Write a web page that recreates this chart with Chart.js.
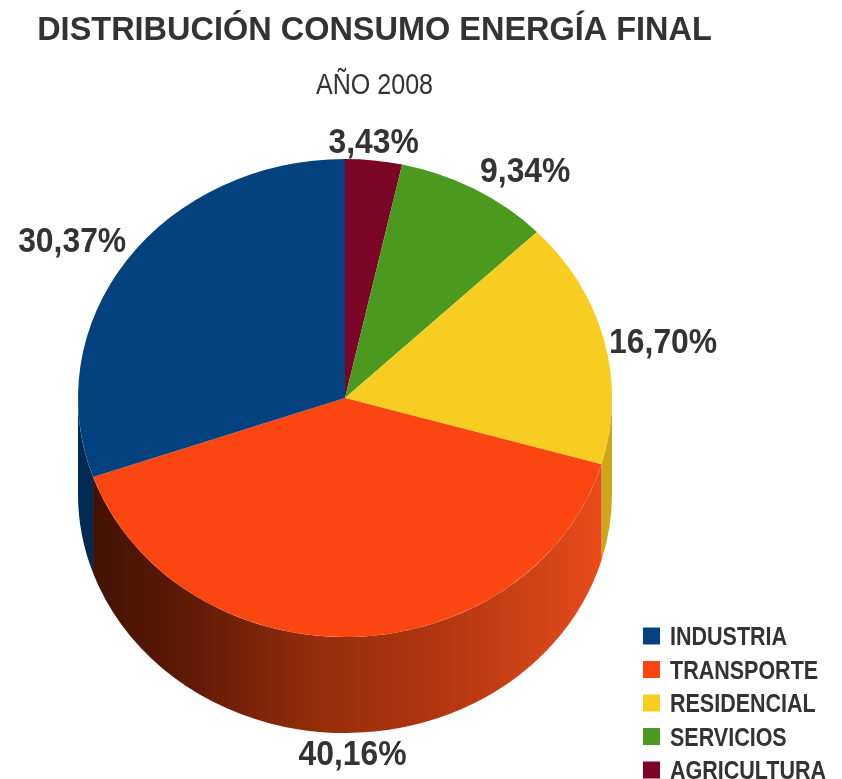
<!DOCTYPE html>
<html>
<head>
<meta charset="utf-8">
<script src="https://cdn.jsdelivr.net/npm/chart.js@4"></script>
<style>
  html, body { margin: 0; padding: 0; background: #fff; }
  canvas { display: block; }
</style>
</head>
<body>
<canvas id="energyChart" width="842" height="779"></canvas>
<script>
const titleText = 'DISTRIBUCIÓN CONSUMO ENERGÍA FINAL';
const subtitleText = 'AÑO 2008';
const categories = ['INDUSTRIA', 'TRANSPORTE', 'RESIDENCIAL', 'SERVICIOS', 'AGRICULTURA'];
const shares = [30.37, 40.16, 16.70, 9.34, 3.43];
const topColors = ['#04427f', '#fb4611', '#f8cd22', '#4c991f', '#7c0527'];
const sideColors = ['#012a55', '#7a2408', '#cfa51a', '#2f6a10', '#4a0316'];

const FONT = "'Liberation Sans', Arial, sans-serif";
const INK = '#333333';

// the picture runs counter-clockwise from the top, so feed the slices reversed
const pieLabels = categories.slice().reverse();
const pieValues = shares.slice().reverse();
const pieColors = topColors.slice().reverse();
const pieSides = sideColors.slice().reverse();

// narrow text: regular font squeezed horizontally
function squeezeText(ctx, text, x, y, font, sx, align) {
  ctx.save();
  ctx.font = font;
  ctx.fillStyle = INK;
  ctx.textBaseline = 'alphabetic';
  ctx.textAlign = align;
  ctx.translate(x, y);
  ctx.scale(sx, 1);
  ctx.fillText(text, 0, 0);
  ctx.restore();
}

const pie3d = {
  id: 'pie3d',
  beforeDatasetsDraw(chart, args, opts) {
    const ctx = chart.ctx;
    const arcs = chart.getDatasetMeta(0).data;
    const {x, y, outerRadius: r} = arcs[0].getProps(['x', 'y', 'outerRadius'], true);
    const sy = opts.ry / r;
    ctx.save();
    ctx.translate(opts.cx, opts.cy);
    ctx.scale(opts.rx / r, sy);
    ctx.translate(-x, -y);
    const D = opts.depth / sy;
    arcs.forEach((arc, i) => {
      const p = arc.getProps(['startAngle', 'endAngle'], true);
      const a0 = Math.max(p.startAngle, 0);
      const a1 = Math.min(p.endAngle, Math.PI);
      if (a1 <= a0) return;
      ctx.beginPath();
      ctx.arc(x, y + D, r, a0, a1);
      ctx.arc(x, y, r, a1, a0, true);
      ctx.closePath();
      if (pieLabels[i] === 'TRANSPORTE') {
        const g = ctx.createLinearGradient(x - r, 0, x + r, 0);
        g.addColorStop(0, '#3e1003');
        g.addColorStop(0.2, '#5e1a06');
        g.addColorStop(0.45, '#962d0c');
        g.addColorStop(0.7, '#b5380f');
        g.addColorStop(0.9, '#d8461a');
        g.addColorStop(1, '#ee4c18');
        ctx.fillStyle = g;
      } else {
        ctx.fillStyle = pieSides[i];
      }
      ctx.fill();
    });
  },
  afterDatasetsDraw(chart, args, opts) {
    const ctx = chart.ctx;
    ctx.restore();
    const arcs = chart.getDatasetMeta(0).data;
    arcs.forEach((arc, i) => {
      const p = arc.getProps(['startAngle', 'endAngle'], true);
      const m = (p.startAngle + p.endAngle) / 2;
      const c = Math.cos(m), s = Math.sin(m);
      const ex = opts.cx + opts.rx * c;
      let ey = opts.cy + opts.ry * s;
      if (s > 0) ey += opts.depth;
      let tx = ex, ty, align = 'center';
      if (c > 0.3) { align = 'left'; tx = ex + 5; }
      else if (c < -0.3) { align = 'right'; tx = ex - 1; }
      if (s < -0.5) ty = ey - 20;
      else if (s > 0.5) ty = ey + 20;
      else ty = ey;
      squeezeText(ctx, pieValues[i].toFixed(2).replace('.', ',') + '%', tx, ty + 12.5,
        'bold 35px ' + FONT, 0.91, align);
    });
  },
  afterDraw(chart, args, opts) {
    const ctx = chart.ctx;
    squeezeText(ctx, titleText, 374.5, 39.5, 'bold 34px ' + FONT, 0.955, 'center');
    squeezeText(ctx, subtitleText, 374.5, 94, '29.5px ' + FONT, 0.85, 'center');
    // legend, same order as the source sheet
    categories.forEach((name, i) => {
      const yc = 636 + i * 33.5;
      ctx.fillStyle = topColors[i];
      ctx.fillRect(643, yc - 8.5, 17, 17);
      squeezeText(ctx, name, 670, yc + 9, 'bold 25px ' + FONT, 0.86, 'left');
    });
  }
};

new Chart(document.getElementById('energyChart').getContext('2d'), {
  type: 'pie',
  data: {
    labels: pieLabels,
    datasets: [{
      data: pieValues,
      backgroundColor: pieColors,
      borderWidth: 0
    }]
  },
  options: {
    responsive: false,
    animation: false,
    devicePixelRatio: 1,
    plugins: {
      legend: { display: false },
      tooltip: { enabled: false },
      pie3d: { cx: 345, cy: 398, rx: 267, ry: 239, depth: 96 }
    }
  },
  plugins: [pie3d]
});
</script>
</body>
</html>
